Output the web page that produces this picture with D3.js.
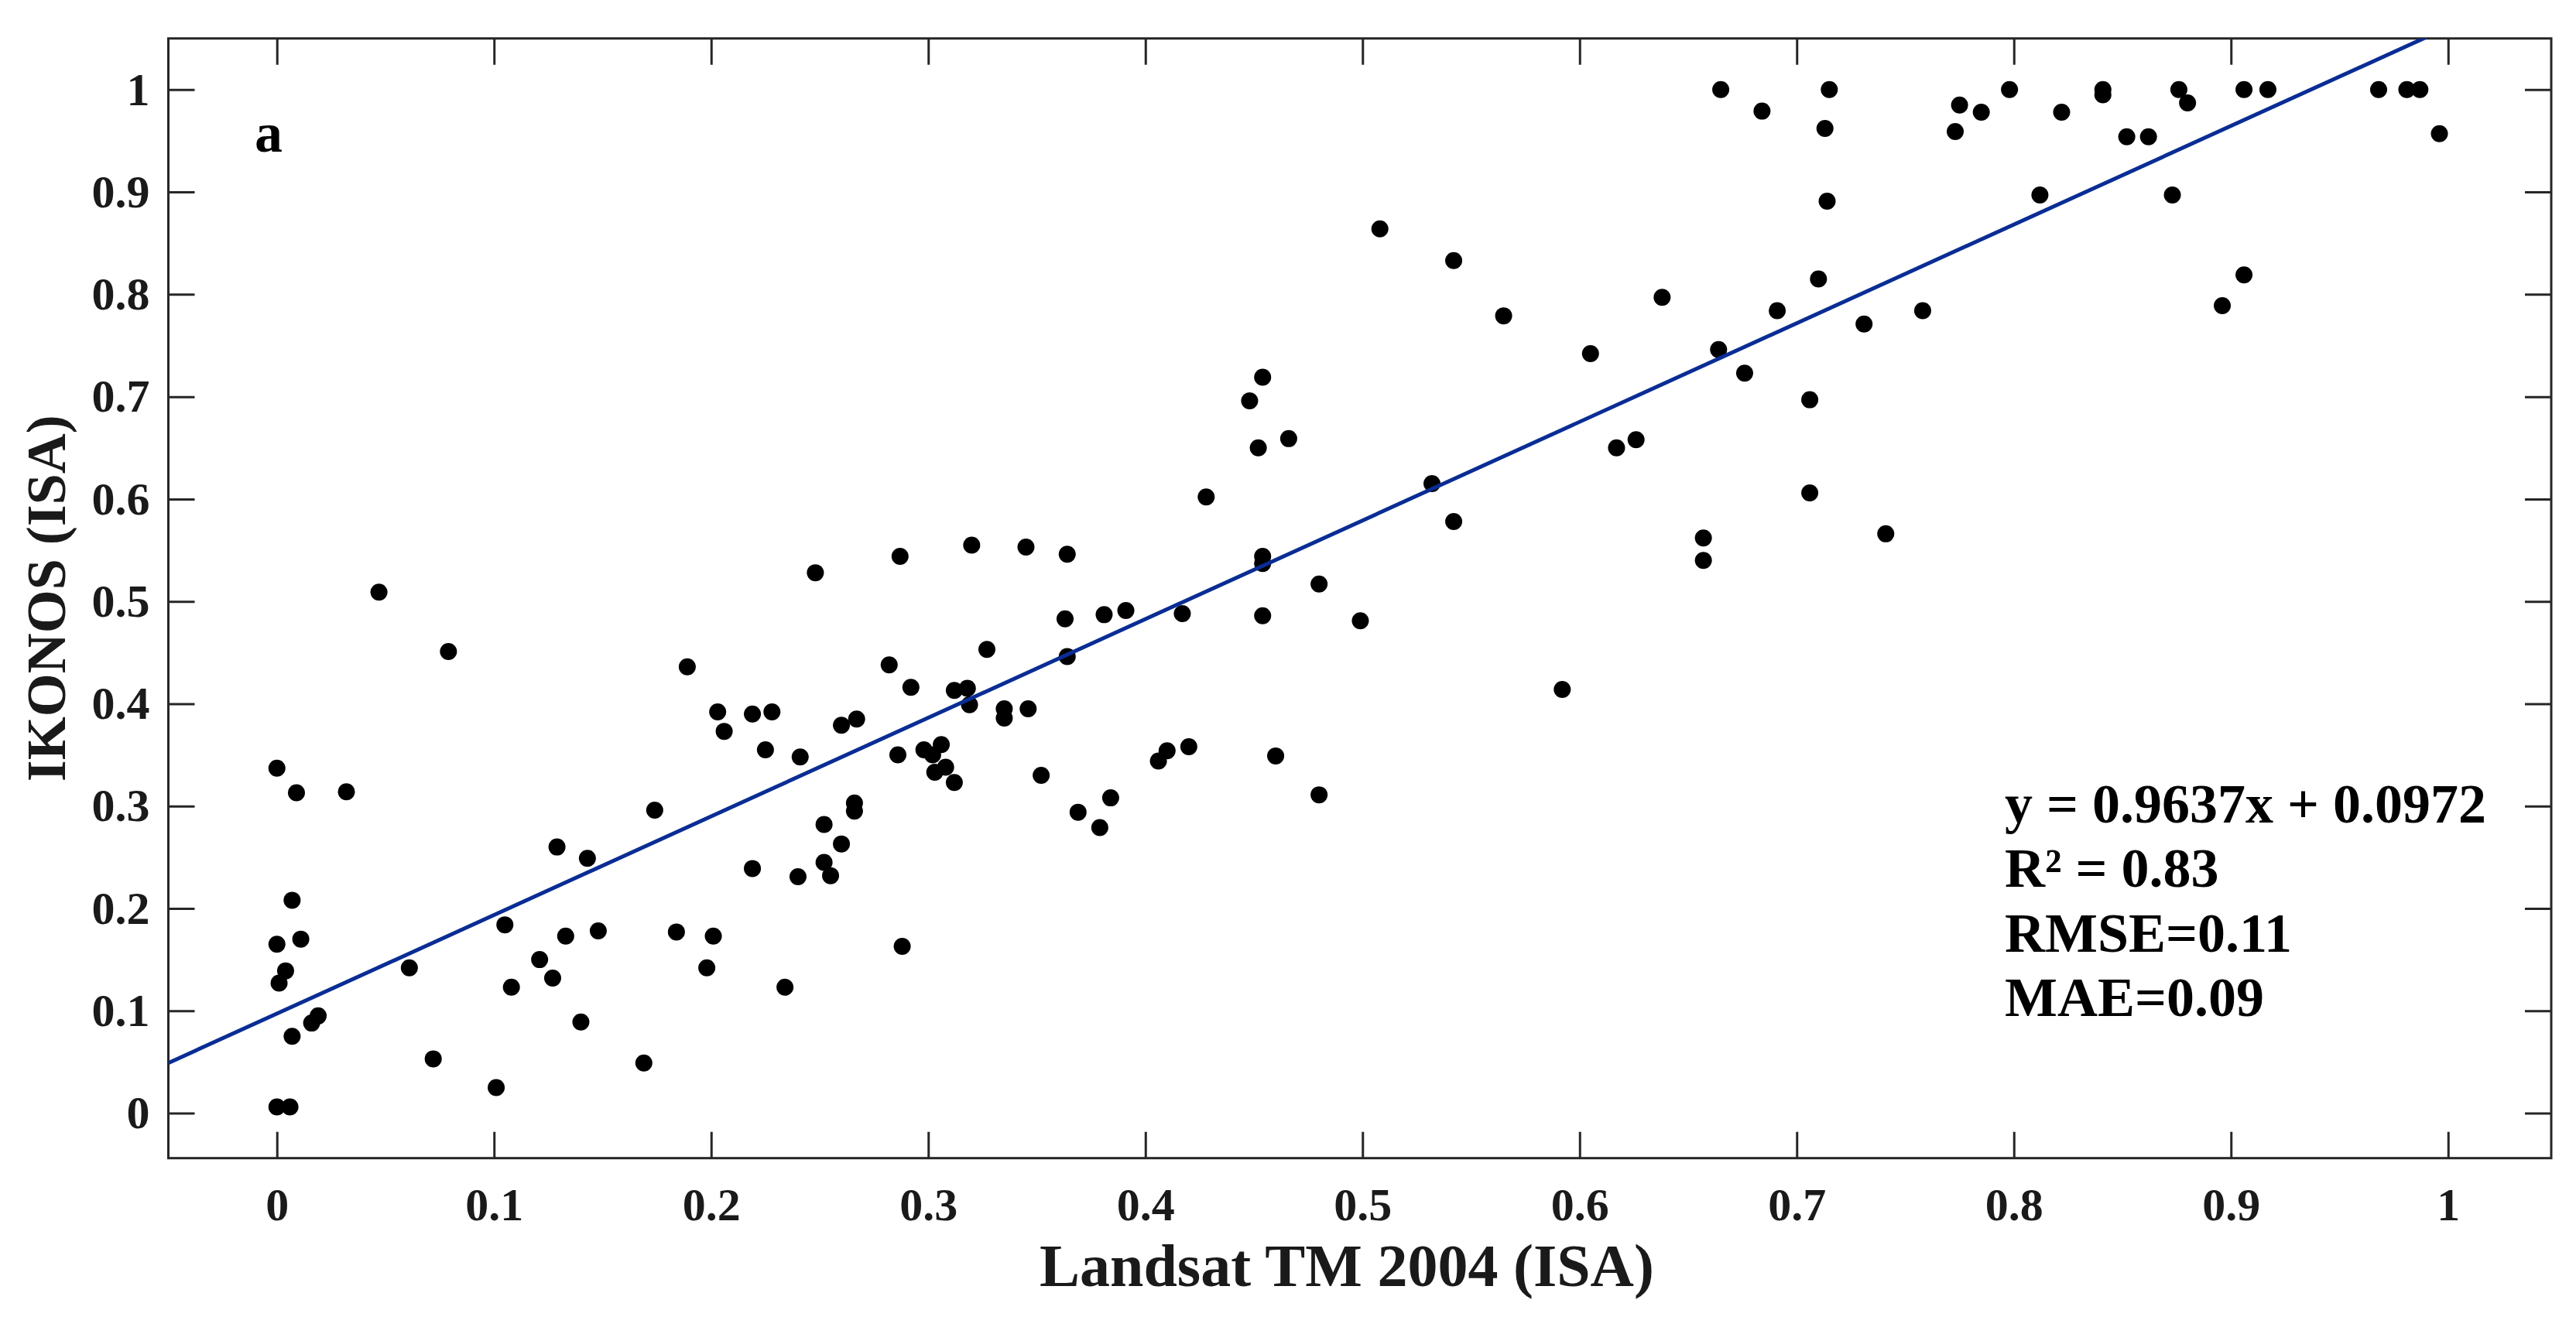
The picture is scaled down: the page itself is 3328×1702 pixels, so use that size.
<!DOCTYPE html>
<html>
<head>
<meta charset="utf-8">
<script src="https://cdn.jsdelivr.net/npm/d3@7/dist/d3.min.js"></script>
<style>
  body { margin: 0; background: #fff; }
  svg text { font-family: "Liberation Serif", "Times New Roman", serif; font-weight: bold; }
  .tick text { font-size: 60px; fill: #1a1a1a; }
  .tick line { stroke: #262626; stroke-width: 3px; }
  .frame { fill: none; stroke: #262626; stroke-width: 3px; }
  .dot { fill: #000; }
  .fit { stroke: #0a2d94; stroke-width: 5px; fill: none; }
</style>
</head>
<body>
<div id="chart"></div>
<script>
// Landsat TM 2004 (ISA) vs IKONOS (ISA)
var landsat = [
  0.047, 0.079, 0.189, 0.203, 0.206, 0.219, 0.000, 0.009, 0.032, 0.174,
  0.129, 0.143, 0.219, 0.007, 0.000, 0.011, 0.004, 0.001, 0.061, 0.016,
  0.019, 0.007, 0.072, 0.101, 0.000, 0.006, 0.105, 0.133, 0.148, 0.108,
  0.121, 0.127, 0.140, 0.169, 0.184, 0.201, 0.198,
  0.228, 0.225, 0.241, 0.260, 0.267, 0.240, 0.252, 0.266, 0.266, 0.260,
  0.252, 0.255, 0.234, 0.288, 0.282, 0.292, 0.286, 0.298, 0.302, 0.306,
  0.303, 0.308, 0.312, 0.312, 0.318, 0.319, 0.327, 0.335, 0.335, 0.346,
  0.352, 0.363, 0.364, 0.381, 0.391, 0.417, 0.454, 0.480, 0.369, 0.379,
  0.384, 0.406, 0.410, 0.420, 0.460, 0.480,
  0.248, 0.287, 0.320, 0.345, 0.364, 0.428, 0.454, 0.448, 0.452, 0.466,
  0.454, 0.454,
  0.665, 0.684, 0.715, 0.713, 0.714, 0.508, 0.542, 0.565, 0.638, 0.605,
  0.710, 0.691, 0.664, 0.676, 0.706, 0.731, 0.758, 0.617, 0.626, 0.532,
  0.542, 0.706, 0.657, 0.657, 0.741, 0.499, 0.592,
  0.798, 0.775, 0.773, 0.785, 0.822, 0.812, 0.841, 0.841, 0.852, 0.862,
  0.876, 0.880, 0.873, 0.906, 0.917, 0.906, 0.896, 0.968, 0.981, 0.987,
  0.996
];
var ikonos = [
  0.509, 0.451, 0.436, 0.392, 0.373, 0.390, 0.337, 0.313, 0.314, 0.296,
  0.260, 0.249, 0.239, 0.208, 0.165, 0.170, 0.139, 0.127, 0.142, 0.088,
  0.095, 0.075, 0.053, 0.025, 0.006, 0.006, 0.184, 0.173, 0.178, 0.123,
  0.150, 0.132, 0.089, 0.049, 0.177, 0.173, 0.142,
  0.392, 0.355, 0.348, 0.379, 0.385, 0.231, 0.282, 0.303, 0.295, 0.263,
  0.245, 0.232, 0.123, 0.163, 0.438, 0.416, 0.350, 0.355, 0.350, 0.360,
  0.333, 0.338, 0.323, 0.413, 0.415, 0.399, 0.453, 0.395, 0.386, 0.395,
  0.330, 0.483, 0.446, 0.487, 0.491, 0.488, 0.486, 0.517, 0.294, 0.279,
  0.308, 0.344, 0.354, 0.358, 0.349, 0.311,
  0.528, 0.544, 0.555, 0.553, 0.546, 0.602, 0.719, 0.696, 0.650, 0.659,
  0.544, 0.537,
  1.000, 0.979, 1.000, 0.962, 0.891, 0.864, 0.833, 0.779, 0.797, 0.742,
  0.815, 0.784, 0.746, 0.723, 0.697, 0.771, 0.784, 0.650, 0.658, 0.615,
  0.578, 0.606, 0.562, 0.540, 0.566, 0.481, 0.414,
  1.000, 0.985, 0.959, 0.978, 0.978, 0.897, 1.000, 0.995, 0.954, 0.954,
  1.000, 0.987, 0.897, 1.000, 1.000, 0.819, 0.789, 1.000, 1.000, 1.000,
  0.957
];

var xTicks = [0, 0.1, 0.2, 0.3, 0.4, 0.5, 0.6, 0.7, 0.8, 0.9, 1];
var yTicks = [0, 0.1, 0.2, 0.3, 0.4, 0.5, 0.6, 0.7, 0.8, 0.9, 1];
var slope = 0.9637, intercept = 0.0972;
var statLines = ["y = 0.9637x + 0.0972", "R\u00b2 = 0.83", "RMSE=0.11", "MAE=0.09"];

var width = 3328, height = 1702;
// plot box in pixels (window.top is read-only, so no bare "top")
var plotL = 217.5, plotR = 3296, plotT = 49.7, plotB = 1496.7;
var tickLen = 34;

var x = d3.scaleLinear().domain([-0.05, 1.0475]).range([plotL, plotR]);
var y = d3.scaleLinear().domain([-0.044, 1.05]).range([plotB, plotT]);
var fmt = function (d) { return String(+d.toFixed(1)); };

var svg = d3.select("#chart").append("svg")
    .attr("width", width)
    .attr("height", height);

svg.append("rect")
    .attr("width", width).attr("height", height)
    .attr("fill", "#fff");

svg.append("clipPath").attr("id", "plotclip")
  .append("rect")
    .attr("x", plotL).attr("y", plotT)
    .attr("width", plotR - plotL).attr("height", plotB - plotT);

// axes, ticks pointing inward on all four sides
svg.append("g")
    .attr("transform", "translate(0," + plotB + ")")
    .call(d3.axisBottom(x).tickValues(xTicks).tickFormat(fmt)
        .tickSize(-tickLen).tickPadding(38))
    .call(function (g) { g.select(".domain").remove(); });

svg.append("g")
    .attr("transform", "translate(0," + plotT + ")")
    .call(d3.axisTop(x).tickValues(xTicks).tickFormat("").tickSize(-tickLen))
    .call(function (g) { g.select(".domain").remove(); });

svg.append("g")
    .attr("transform", "translate(" + plotL + ",0)")
    .call(d3.axisLeft(y).tickValues(yTicks).tickFormat(fmt)
        .tickSize(-tickLen).tickPadding(24))
    .call(function (g) { g.select(".domain").remove(); });

svg.append("g")
    .attr("transform", "translate(" + plotR + ",0)")
    .call(d3.axisRight(y).tickValues(yTicks).tickFormat("").tickSize(-tickLen))
    .call(function (g) { g.select(".domain").remove(); });

svg.selectAll(".tick text").attr("font-family", null).attr("font-size", null);

svg.append("rect")
    .attr("class", "frame")
    .attr("x", plotL).attr("y", plotT)
    .attr("width", plotR - plotL).attr("height", plotB - plotT);

// points
var points = landsat.map(function (v, i) { return [v, ikonos[i]]; });
svg.append("g")
    .selectAll(".dot")
    .data(points)
  .enter().append("circle")
    .attr("class", "dot")
    .attr("cx", function (d) { return x(d[0]); })
    .attr("cy", function (d) { return y(d[1]); })
    .attr("r", 11);

// fitted line
var xs = x.domain();
svg.append("line")
    .attr("class", "fit")
    .attr("clip-path", "url(#plotclip)")
    .attr("x1", x(xs[0])).attr("y1", y(slope * xs[0] + intercept))
    .attr("x2", x(xs[1])).attr("y2", y(slope * xs[1] + intercept));

// labels
svg.append("text")
    .attr("x", 1740).attr("y", 1662)
    .attr("text-anchor", "middle")
    .attr("font-size", 78)
    .attr("fill", "#1a1a1a")
    .text("Landsat TM 2004 (ISA)");

svg.append("text")
    .attr("transform", "translate(84," + (plotT + plotB) / 2 + ") rotate(-90)")
    .attr("text-anchor", "middle")
    .attr("font-size", 72)
    .attr("fill", "#1a1a1a")
    .text("IKONOS (ISA)");

svg.append("text")
    .attr("x", 329).attr("y", 196)
    .attr("font-size", 72)
    .text("a");

svg.append("g")
    .selectAll("text")
    .data(statLines)
  .enter().append("text")
    .attr("x", 2590)
    .attr("y", function (d, i) { return 1063 + i * 83.3; })
    .attr("font-size", 72)
    .text(function (d) { return d; });
</script>
</body>
</html>
